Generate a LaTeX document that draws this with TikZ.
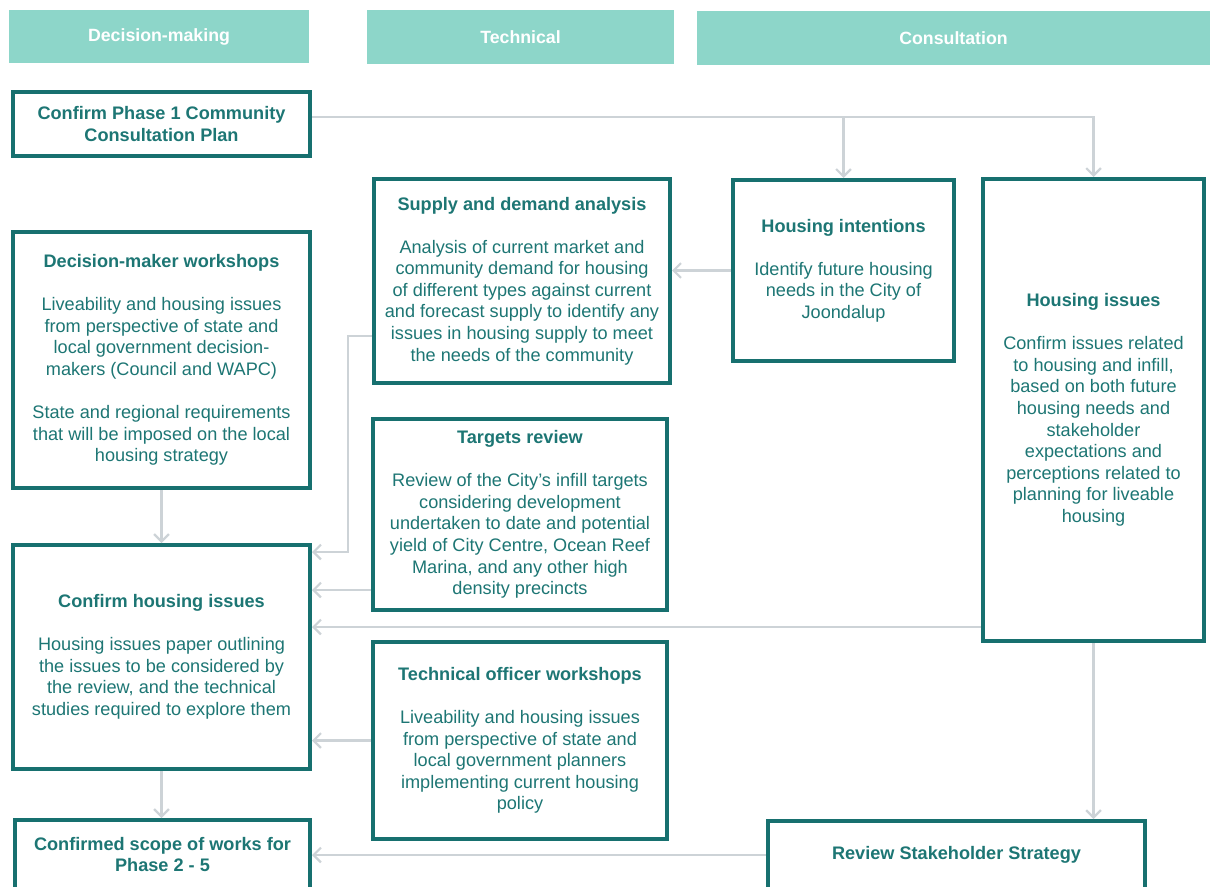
\documentclass[tikz,border=0pt]{standalone}
\usepackage{fontspec}
\setmainfont{Liberation Sans}
\usetikzlibrary{arrows.meta,calc}
\definecolor{headfill}{HTML}{8DD6C9}
\definecolor{boxline}{HTML}{17706F}
\definecolor{boxtext}{HTML}{1D7674}
\definecolor{connline}{HTML}{CDD3D7}
\begin{document}
\begin{tikzpicture}[
  x=0.75pt, y=-0.75pt,
  every node/.style = {align=center,
    font=\fontsize{13.6}{16.2}\selectfont},
  size/.style 2 args = {minimum width=#1*0.75pt, minimum height=#2*0.75pt},
  head/.style = {fill=headfill, text=white,
    font=\fontsize{13.3}{16}\selectfont\bfseries},
  box/.style  = {draw=boxline, line width=3pt, fill=white, text=boxtext},
  conn/.style = {draw=connline, line width=1.7pt,
    -{Straight Barb[length=5.5pt,width=11pt]}}]
\path[use as bounding box, clip] (0,0) rectangle (1210,886);
% column headers
\node[head, size={300}{53}] (hdm) at (159,36.5) {Decision-making};
\node[head, size={307}{54}] (htec) at (520.5,37) {Technical};
\node[head, size={513}{54}] (hcon) at (953.5,38) {Consultation};
% decision-making column
\node[box, size={297}{64}] (p1) at (161.5,124)
 {\textbf{Confirm Phase 1 Community}\\ \textbf{Consultation Plan}};
\node[box, size={297}{256}] (dmw) at (161.5,360)
 {\textbf{Decision-maker workshops}\\[16pt]
  Liveability and housing issues\\ from perspective of state and\\
  local government decision-\\ makers (Council and WAPC)\\[16pt]
  State and regional requirements\\ that will be imposed on the local\\
  housing strategy};
\node[box, size={297}{224}] (chi) at (161.5,657)
 {\textbf{Confirm housing issues}\\[16pt]
  Housing issues paper outlining\\ the issues to be considered by\\
  the review, and the technical\\ studies required to explore them};
\node[box, size={295}{69}] (csw) at (162.5,854.5)
 {\textbf{Confirmed scope of works for}\\ \textbf{Phase 2 - 5}};
% technical column
\node[box, size={296}{204}] (sda) at (522,281)
 {\textbf{Supply and demand analysis}\\[16pt]
  Analysis of current market and\\ community demand for housing\\
  of different types against current\\ and forecast supply to identify any\\
  issues in housing supply to meet\\ the needs of the community};
\node[box, size={294}{191}] (tgt) at (520,514.5)
 {\textbf{Targets review}\\[16pt]
  Review of the City’s infill targets\\ considering development\\
  undertaken to date and potential\\ yield of City Centre, Ocean Reef\\
  Marina, and any other high\\ density precincts};
\node[box, size={294}{197}] (tow) at (520,740.5)
 {\textbf{Technical officer workshops}\\[16pt]
  Liveability and housing issues\\ from perspective of state and\\
  local government planners\\ implementing current housing\\ policy};
% consultation column
\node[box, size={221}{181}] (hint) at (843.5,270.5)
 {\textbf{Housing intentions}\\[16pt]
  Identify future housing\\ needs in the City of\\ Joondalup};
\node[box, size={221}{462}] (hiss) at (1093.5,410)
 {\textbf{Housing issues}\\[16pt]
  Confirm issues related\\ to housing and infill,\\ based on both future\\
  housing needs and\\ stakeholder\\ expectations and\\
  perceptions related to\\ planning for liveable\\ housing};
\node[box, size={377}{68}] (rss) at (956.5,855)
 {\textbf{Review Stakeholder Strategy}};
% connectors
\coordinate (p1out) at ($(p1.east)+(0,-7)$);
\coordinate (tgtout) at ($(tgt.south west)+(0,-22)$);
\coordinate (hissout) at ($(hiss.south west)+(0,-16)$);
\draw[conn] (p1out) -| (hiss.north);
\draw[conn] (p1out -| hint.north) -- (hint.north);
\draw[conn] (hint.west) -- (hint.west -| sda.east);
\draw[conn] ($(sda.west)+(0,55)$) -- ++(-24,0) |- ($(chi.north east)+(0,9)$);
\draw[conn] (tgtout) -- (tgtout -| chi.east);
\draw[conn] (hissout) -- (hissout -| chi.east);
\draw[conn] (tow.west) -- (tow.west -| chi.east);
\draw[conn] (dmw.south) -- (chi.north);
\draw[conn] (chi.south) -- (chi.south |- csw.north);
\draw[conn] (hiss.south) -- (hiss.south |- rss.north);
\draw[conn] (rss.west) -- (rss.west -| csw.east);
\end{tikzpicture}
\end{document}
